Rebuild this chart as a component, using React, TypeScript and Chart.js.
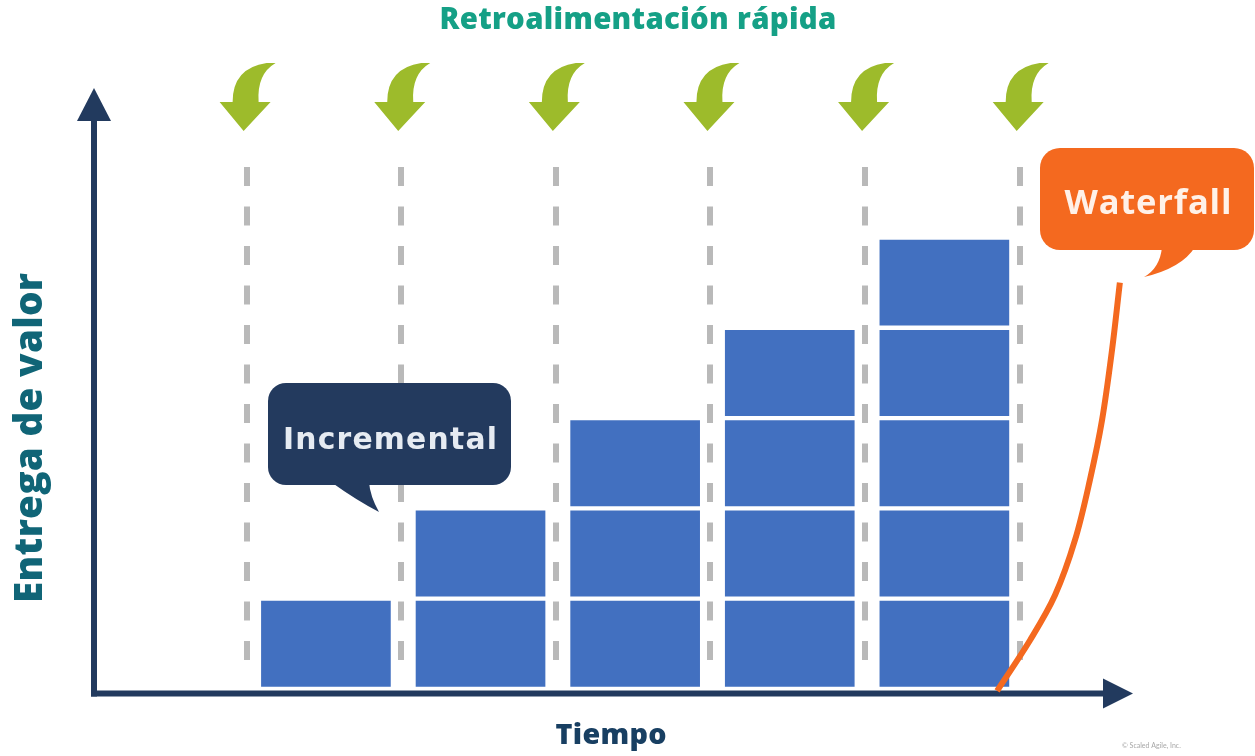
import React, { useEffect, useRef } from "react";
import { Chart, registerables } from "chart.js";

Chart.register(...registerables);

// ---- data ----
const columns = [1, 2, 3, 4, 5];
const blocksPerColumn = [1, 2, 3, 4, 5];
const stackLevels = [1, 2, 3, 4, 5];
const feedbackPoints = [0.5, 1.5, 2.5, 3.5, 4.5, 5.5];
const waterfallX = [5.341, 5.554, 5.716, 5.845, 5.942, 6.02, 6.084, 6.135];
const waterfallY = [-0.02, 0.54, 1.04, 1.65, 2.32, 2.98, 3.75, 4.5];
const titleText = "Retroalimentación rápida";
const xTitle = "Tiempo";
const yTitle = "Entrega de valor";
const incrementalLabel = "Incremental";
const waterfallLabel = "Waterfall";
const copyrightText = "© Scaled Agile, Inc.";

// draw text fitted to a target width: font size scaled, then tiny spacing correction
function drawFit(
  ctx: CanvasRenderingContext2D,
  text: string,
  cx: number,
  baseline: number,
  weight: string,
  family: string,
  target: number,
  color: string,
  spacing = 0
) {
  (ctx as any).letterSpacing = "0px";
  ctx.font = `${weight} 100px ${family}`;
  const w100 = ctx.measureText(text).width;
  const n = Math.max(1, text.length - 1);
  const size = (100 * (target - spacing * n)) / w100;
  ctx.font = `${weight} ${size.toFixed(2)}px ${family}`;
  (ctx as any).letterSpacing = spacing + "px";
  ctx.textAlign = "left";
  ctx.textBaseline = "alphabetic";
  ctx.fillStyle = color;
  ctx.fillText(text, cx - target / 2, baseline);
  (ctx as any).letterSpacing = "0px";
}

function greenArrow(ctx: CanvasRenderingContext2D, cx: number) {
  ctx.beginPath();
  ctx.moveTo(cx + 20, 63);
  ctx.lineTo(cx + 29, 63);
  ctx.quadraticCurveTo(cx + 10, 74, cx + 12, 102);
  ctx.lineTo(cx + 24, 102);
  ctx.lineTo(cx - 3, 131);
  ctx.lineTo(cx - 27, 102);
  ctx.lineTo(cx - 14, 102);
  ctx.quadraticCurveTo(cx - 14, 68, cx + 20, 63);
  ctx.closePath();
  ctx.fillStyle = "#9dbb2b";
  ctx.fill();
}

const decorPlugin = {
  id: "decor",
  beforeDatasetsDraw(chart: any) {
    const { ctx, chartArea } = chart;
    const xs = chart.scales.x;
    ctx.save();
    // dashed feedback lines
    ctx.strokeStyle = "#b9b9b9";
    ctx.lineWidth = 6;
    ctx.setLineDash([19, 20.5]);
    feedbackPoints.forEach((v) => {
      const px = Math.round(xs.getPixelForValue(v)) - 2;
      ctx.beginPath();
      ctx.moveTo(px, 167);
      ctx.lineTo(px, 680);
      ctx.stroke();
    });
    ctx.setLineDash([]);

    // axes
    const axisColor = "#223a5e";
    const left = chartArea.left;
    const bottom = chartArea.bottom;
    ctx.strokeStyle = axisColor;
    ctx.fillStyle = axisColor;
    ctx.lineWidth = 6;
    ctx.beginPath();
    ctx.moveTo(left, bottom + 3);
    ctx.lineTo(left, chartArea.top + 30);
    ctx.stroke();
    ctx.beginPath();
    ctx.moveTo(left - 3, bottom);
    ctx.lineTo(chartArea.right - 26, bottom);
    ctx.stroke();
    ctx.beginPath();
    ctx.moveTo(left, chartArea.top);
    ctx.lineTo(left + 17, chartArea.top + 33);
    ctx.lineTo(left - 17, chartArea.top + 33);
    ctx.closePath();
    ctx.fill();
    ctx.beginPath();
    ctx.moveTo(chartArea.right, bottom);
    ctx.lineTo(chartArea.right - 30, bottom - 15);
    ctx.lineTo(chartArea.right - 30, bottom + 15);
    ctx.closePath();
    ctx.fill();
    ctx.restore();
  },
  afterDatasetsDraw(chart: any) {
    const { ctx } = chart;
    const xs = chart.scales.x;
    ctx.save();
    feedbackPoints.forEach((v) => greenArrow(ctx, xs.getPixelForValue(v) - 2));

    // Incremental callout
    ctx.fillStyle = "#233a5e";
    ctx.beginPath();
    ctx.roundRect(268, 383, 243, 102, 18);
    ctx.fill();
    ctx.beginPath();
    ctx.moveTo(331, 482);
    ctx.quadraticCurveTo(356, 500, 379, 512);
    ctx.quadraticCurveTo(370, 496, 369, 482);
    ctx.closePath();
    ctx.fill();
    drawFit(ctx, incrementalLabel, 390, 449, "bold", "'DejaVu Sans'", 214, "#e6ebf2", 1.2);

    // Waterfall callout
    ctx.fillStyle = "#f4691f";
    ctx.beginPath();
    ctx.roundRect(1040, 148, 214, 102, 20);
    ctx.fill();
    ctx.beginPath();
    ctx.moveTo(1162, 247);
    ctx.quadraticCurveTo(1160, 268, 1144, 277);
    ctx.quadraticCurveTo(1182, 268, 1195, 247);
    ctx.closePath();
    ctx.fill();
    drawFit(ctx, waterfallLabel, 1148, 214, "bold", "'Open Sans'", 167, "#fff1e8", 0.8);

    // titles
    drawFit(ctx, titleText, 638, 29, "800", "'Open Sans'", 397, "#15a086", 0.3);
    drawFit(ctx, xTitle, 611, 744, "800", "'Open Sans'", 111, "#183f62", 0.3);
    ctx.save();
    ctx.translate(42, 438);
    ctx.rotate(-Math.PI / 2);
    drawFit(ctx, yTitle, 0, 0, "800", "'Open Sans'", 330, "#106577", 0.3);
    ctx.restore();

    ctx.font = "7px Lato";
    ctx.fillStyle = "#a8a8a8";
    ctx.textAlign = "left";
    ctx.fillText(copyrightText, 1122, 748);
    ctx.restore();
  },
};

export default function App() {
  const ref = useRef<HTMLCanvasElement | null>(null);
  useEffect(() => {
    document.body.style.margin = "0";
    const canvas = ref.current;
    if (!canvas) return;
    const barDatasets = stackLevels.map((level) => ({
      type: "bar" as const,
      label: "Bloque " + level,
      data: columns.map((c, i) => ({ x: c, y: blocksPerColumn[i] >= level ? 1 : null })),
      backgroundColor: "#4270c0",
      borderColor: "#ffffff",
      borderWidth: 2.5,
      borderSkipped: false,
      barThickness: 134,
      stack: "incremental",
      order: 2,
    }));
    const chart = new Chart(canvas, {
      type: "bar",
      data: {
        datasets: [
          {
            type: "line" as const,
            label: waterfallLabel,
            data: waterfallX.map((x, i) => ({ x, y: waterfallY[i] })),
            borderColor: "#f4691f",
            borderWidth: 6,
            pointRadius: 0,
            tension: 0.35,
            fill: false,
            order: 0,
          } as any,
          ...barDatasets,
        ],
      },
      options: {
        animation: false,
        responsive: false,
        layout: { padding: { left: 94, right: 122, top: 88, bottom: 62.5 } },
        plugins: { legend: { display: false }, tooltip: { enabled: false } },
        scales: {
          x: { type: "linear", min: -0.5, max: 6.22, display: false, stacked: true, offset: false },
          y: { type: "linear", min: -0.05, max: 6.655, display: false, stacked: true },
        },
      },
      plugins: [decorPlugin],
    } as any);
    return () => chart.destroy();
  }, []);
  return (
    <div style={{ width: 1255, height: 756, background: "#ffffff" }}>
      <canvas ref={ref} width={1255} height={756} style={{ display: "block" }} />
    </div>
  );
}
